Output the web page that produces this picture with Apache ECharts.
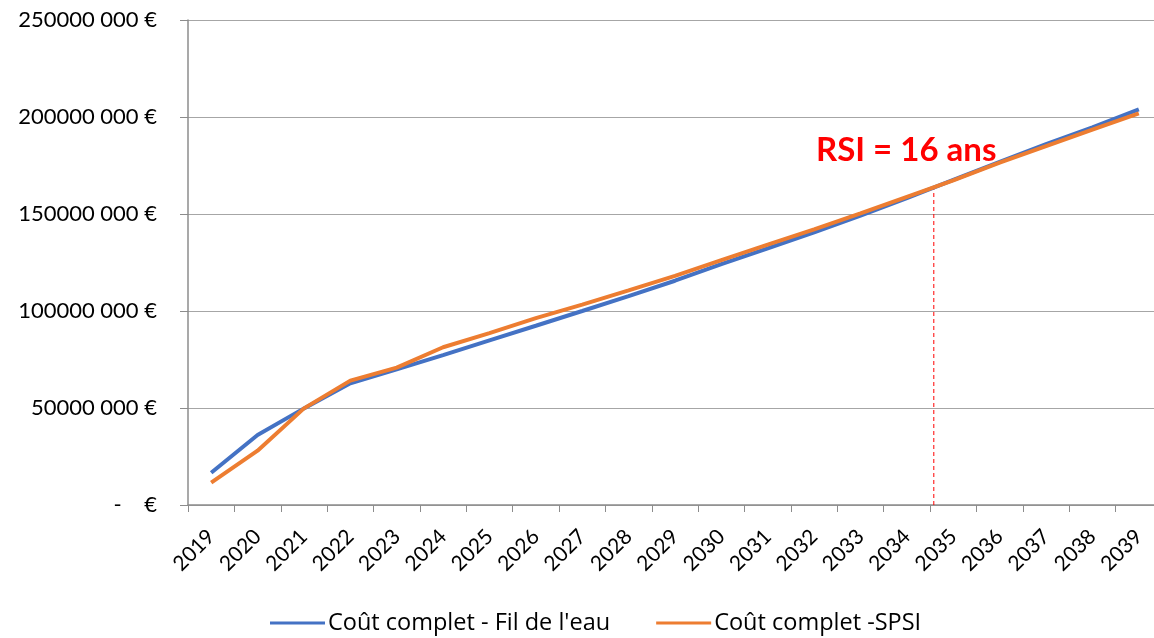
<!DOCTYPE html>
<html>
<head>
<meta charset="utf-8">
<script src="https://cdn.jsdelivr.net/npm/echarts@6/dist/echarts.min.js"></script>
<style>
    html, body { margin: 0; padding: 0; background: #fff; }
    #chart { width: 1154px; height: 638px; }
</style>
</head>
<body>
<div id="chart"></div>
<script>
// années (axe des catégories)
const years = ['2019', '2020', '2021', '2022', '2023', '2024', '2025', '2026', '2027', '2028', '2029',
    '2030', '2031', '2032', '2033', '2034', '2035', '2036', '2037', '2038', '2039']
// coût cumulé en millions d'euros
const filDeLeau = [16.6, 36.1, 49.8, 62.7, 69.9, 77.3, 84.9, 92.4, 100.0, 107.7, 115.6,
    124.2, 132.3, 140.5, 149.2, 158.2, 167.6, 176.9, 186.0, 194.7, 203.9]
const spsi = [11.5, 28.0, 49.8, 64.1, 70.8, 81.3, 88.6, 96.3, 103.3, 110.6, 118.1,
    126.2, 134.2, 142.1, 150.3, 158.8, 167.3, 176.5, 185.0, 193.5, 201.9]
// ligne de retour sur investissement (position en index d'année, valeur en M€)
const rsiIndex = [15.58, 15.58]
const rsiValue = [0, 163.8]
const yTicks = [0, 50, 100, 150, 200, 250]

const font = 'Lato'
const chart = echarts.init(document.getElementById('chart'))

const options = {
    animation: false,
    textStyle: { fontFamily: font },
    grid: {
        left: 188,
        top: 20,
        width: 974,
        height: 485,
        outerBoundsMode: 'none'
    },
    legend: {
        left: 270,
        top: 611,
        padding: 0,
        icon: 'rect',
        itemWidth: 55,
        itemHeight: 3,
        itemGap: 46,
        textStyle: { fontFamily: 'Open Sans', fontSize: 23.5, color: '#000', padding: [0, 0, 0, -2] },
        data: ['Coût complet - Fil de l\'eau', 'Coût complet -SPSI']
    },
    xAxis: [
        {
            type: 'category',
            data: years,
            boundaryGap: true,
            axisLine: { lineStyle: { color: '#8c8c8c', width: 1.5 } },
            axisTick: { show: true, length: 7, lineStyle: { color: '#8c8c8c' } },
            axisLabel: {
                rotate: 45,
                margin: 28,
                fontFamily: font,
                fontSize: 21,
                color: '#000'
            },
            splitLine: { show: false }
        },
        {
            // axe caché pour placer la ligne RSI entre deux années
            type: 'value',
            min: -0.5,
            max: years.length - 0.5,
            show: false
        }
    ],
    yAxis: {
        type: 'value',
        min: yTicks[0],
        max: yTicks[yTicks.length - 1],
        interval: 50,
        axisLine: { show: true, onZero: false, lineStyle: { color: '#8c8c8c', width: 1.5 } },
        axisTick: { show: true, length: 8, lineStyle: { color: '#8c8c8c' } },
        axisLabel: {
            margin: 31,
            fontFamily: font,
            fontSize: 22,
            color: '#000',
            formatter: v => v === 0 ? '-    €' : (v * 1000) + ' 000 €'
        },
        splitLine: { lineStyle: { color: '#a6a6a6', width: 1.2 } }
    },
    graphic: [
        {
            type: 'text',
            left: 816,
            top: 134,
            style: {
                text: 'RSI = 16 ans',
                fill: '#ff0000',
                font: 'bold 33px ' + font
            }
        }
    ],
    series: [
        {
            name: 'RSI',
            type: 'line',
            xAxisIndex: 1,
            data: rsiIndex.map((x, i) => [x, rsiValue[i]]),
            showSymbol: false,
            lineStyle: { color: '#ff0000', width: 1, type: [4, 3] },
            z: 1
        },
        {
            name: 'Coût complet - Fil de l\'eau',
            type: 'line',
            data: filDeLeau,
            showSymbol: false,
            color: '#4472c4',
            lineStyle: { width: 4, color: '#4472c4' },
            z: 3
        },
        {
            name: 'Coût complet -SPSI',
            type: 'line',
            data: spsi,
            showSymbol: false,
            color: '#ed7d31',
            lineStyle: { width: 4, color: '#ed7d31' },
            z: 4
        }
    ]
}
chart.setOption(options)
</script>
</body>
</html>
